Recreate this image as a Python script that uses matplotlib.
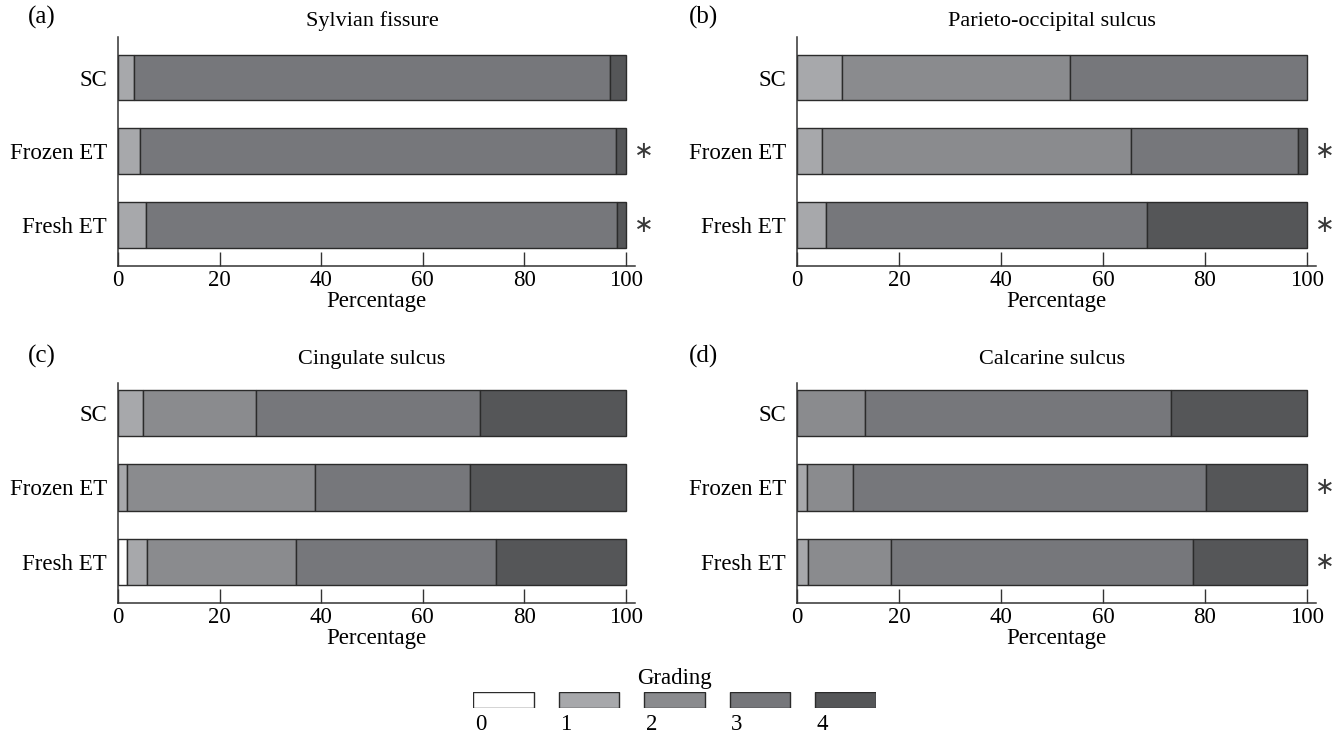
import numpy as np
import matplotlib
matplotlib.use('Agg')
import matplotlib.pyplot as plt

plt.rcParams['font.family'] = ['Liberation Serif', 'DejaVu Serif']

groups = ['SC', 'Frozen ET', 'Fresh ET']
grades = ['0', '1', '2', '3', '4']
grade_colors = ['#ffffff', '#a7a8ab', '#8a8b8e', '#76777b', '#555658']

panel_labels = ['(a)', '(b)', '(c)', '(d)']
panel_titles = ['Sylvian fissure', 'Parieto-occipital sulcus',
                'Cingulate sulcus', 'Calcarine sulcus']

# percentage of each grade (0..4); rows are SC, Frozen ET, Fresh ET
sylvian = [[0, 3.1, 0, 93.8, 3.1],
           [0, 4.3, 0, 93.7, 2.0],
           [0, 5.5, 0, 92.8, 1.7]]
parieto = [[0, 8.8, 44.8, 46.4, 0],
           [0, 5.0, 60.5, 32.7, 1.8],
           [0, 5.6, 0, 63.0, 31.4]]
cingulate = [[0, 5.0, 22.2, 44.0, 28.8],
             [0, 1.8, 37.0, 30.6, 30.6],
             [1.8, 3.9, 29.4, 39.4, 25.5]]
calcarine = [[0, 0, 13.4, 60.0, 26.6],
             [0, 1.9, 9.0, 69.4, 19.7],
             [0, 2.2, 16.2, 59.2, 22.4]]

# which groups get an asterisk
signif = [[False, True, True],
          [False, True, True],
          [False, False, False],
          [False, True, True]]

panels = [sylvian, parieto, cingulate, calcarine]

W, H = 1338, 737
fig = plt.figure(figsize=(W / 100, H / 100), dpi=100)

fs = 16.5

# axes boxes in pixels: left, top, right, bottom
boxes = [(118, 37, 635, 266), (797, 37, 1316, 266),
         (118, 383, 635, 603), (797, 383, 1316, 603)]
ylims = [(-0.556, 2.55), (-0.556, 2.55), (-0.55, 2.40), (-0.55, 2.40)]
title_pads = [8, 8, 14, 14]
label_pos = [(42, 17), (704, 17), (42, 356), (704, 356)]

edge = '#2b2b2b'
ypos = np.array([2, 1, 0])

for i, data in enumerate(panels):
    l, t, r, b = boxes[i]
    ax = fig.add_axes([l / W, 1 - b / H, (r - l) / W, (b - t) / H])
    vals = np.array(data, dtype=float)
    lefts = np.cumsum(vals, axis=1) - vals
    for k in range(len(grades)):
        m = vals[:, k] > 0
        if m.any():
            ax.barh(ypos[m], vals[m, k], left=lefts[m, k], height=0.62,
                    color=grade_colors[k], edgecolor=edge, linewidth=1.0)
    ax.set_xlim(0, 101.8)
    ax.set_ylim(*ylims[i])
    ax.set_xticks(range(0, 101, 20))
    ax.set_yticks(ypos, groups)
    ax.tick_params(axis='x', direction='in', length=10, width=1,
                   color='#333333', pad=3, labelsize=fs)
    ax.tick_params(axis='y', length=0, pad=8, labelsize=fs)
    for s in ['top', 'right']:
        ax.spines[s].set_visible(False)
    for s in ['left', 'bottom']:
        ax.spines[s].set_color('#333333')
        ax.spines[s].set_linewidth(1.1)
    ax.set_xlabel('Percentage', fontsize=fs, labelpad=0)
    ax.set_title(panel_titles[i], x=50 / 101.8, pad=title_pads[i], fontsize=16)
    for j, flag in enumerate(signif[i]):
        if flag:
            ax.text(103.6, ypos[j], '\u2217', ha='center', va='center',
                    fontsize=17, color='#3a3a3a', family='DejaVu Sans',
                    clip_on=False)
    fig.text(label_pos[i][0] / W, 1 - label_pos[i][1] / H, panel_labels[i],
             ha='center', va='center', fontsize=18)

# legend: swatches with the grade numbers underneath
lax = fig.add_axes([473 / W, 1 - 708 / H, 403 / W, 16 / H])
lax.bar(range(len(grades)), 1, width=0.713, align='edge',
        color=grade_colors, edgecolor=edge, linewidth=1.0)
lax.set_xlim(0, 4.713)
lax.set_ylim(0, 1)
lax.axis('off')
for k, g in enumerate(grades):
    lax.text(k + 0.02, -1.06, g, ha='left', va='center', fontsize=fs)
lax.text(2.36, 1.85, 'Grading', ha='center', va='center', fontsize=fs)

fig.savefig('out.png', dpi=100)
